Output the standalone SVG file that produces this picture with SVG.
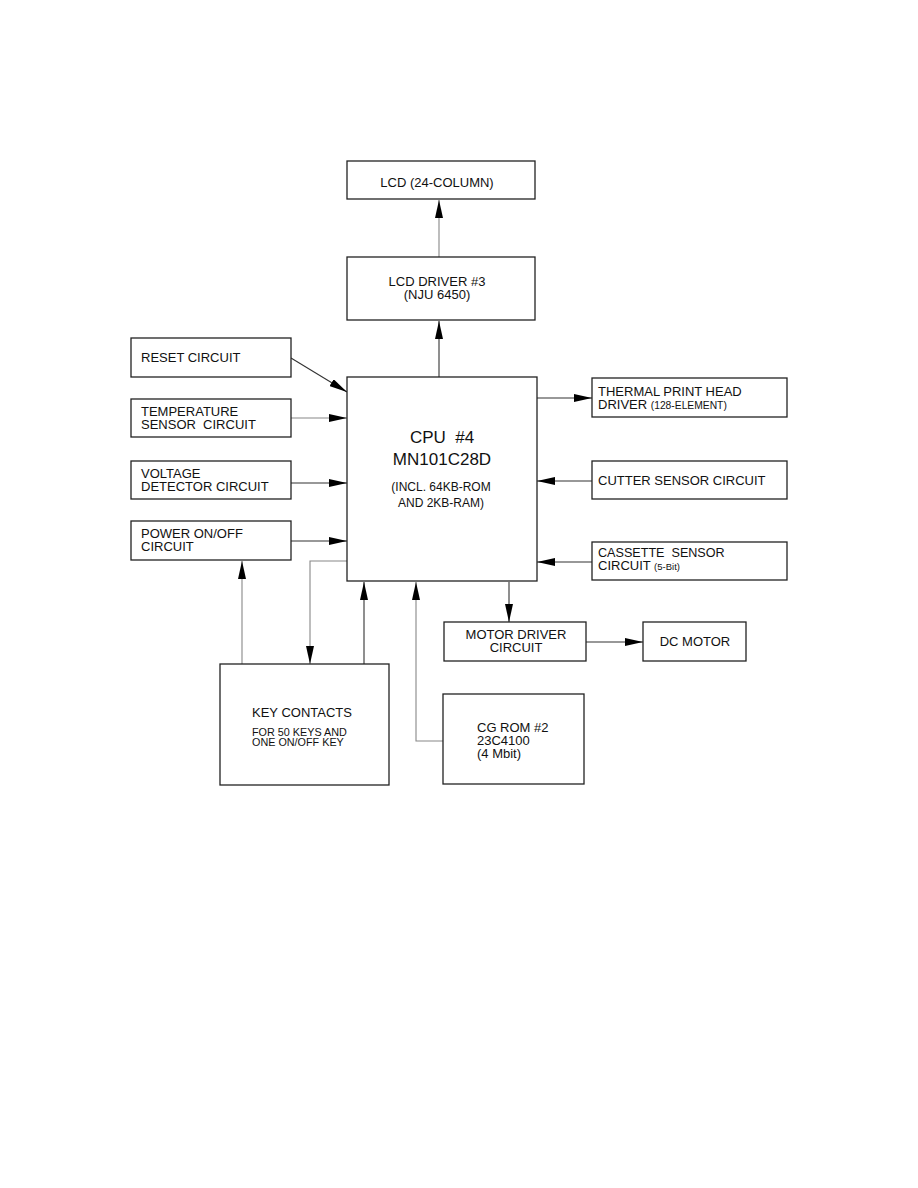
<svg xmlns="http://www.w3.org/2000/svg" width="918" height="1188" viewBox="0 0 918 1188">
<style>
.b{fill:#fff;stroke:#222;stroke-width:1.3}
.t{font-family:"Liberation Sans",Arial,sans-serif;font-size:13px;fill:#111}
.s{font-size:10.3px}
.c{text-anchor:middle}
.l{fill:none;stroke:#333;stroke-width:1.1}
.g{stroke:#888}
</style>
<defs>
<marker id="a" markerUnits="userSpaceOnUse" markerWidth="18" markerHeight="8" refX="18" refY="4" orient="auto">
<path d="M0,0 L18,4 L0,8 z" fill="#000"/>
</marker>
</defs>
<rect width="918" height="1188" fill="#fff"/>
<g id="connectors">
<line class="l g" x1="439" y1="257" x2="439" y2="200" marker-end="url(#a)"/>
<line class="l" x1="439" y1="377" x2="439" y2="321" marker-end="url(#a)"/>
<line class="l" x1="291" y1="358" x2="347" y2="392" marker-end="url(#a)"/>
<line class="l g" x1="291" y1="418" x2="347" y2="418" marker-end="url(#a)"/>
<line class="l" x1="291" y1="483" x2="347" y2="483" marker-end="url(#a)"/>
<line class="l" x1="291" y1="541" x2="347" y2="541" marker-end="url(#a)"/>
<line class="l" x1="537" y1="398" x2="592" y2="398" marker-end="url(#a)"/>
<line class="l" x1="592" y1="481" x2="537" y2="481" marker-end="url(#a)"/>
<line class="l" x1="592" y1="562" x2="537" y2="562" marker-end="url(#a)"/>
<line class="l g" x1="242" y1="664" x2="242" y2="561" marker-end="url(#a)"/>
<polyline class="l g" points="347,561 310,561 310,664" marker-end="url(#a)"/>
<line class="l" x1="364" y1="664" x2="364" y2="582" marker-end="url(#a)"/>
<polyline class="l g" points="443,741 416,741 416,582" marker-end="url(#a)"/>
<line class="l" x1="509" y1="582" x2="509" y2="622" marker-end="url(#a)"/>
<line class="l" x1="586" y1="642" x2="643" y2="642" marker-end="url(#a)"/>
</g>
<g id="lcd"><rect class="b" x="347" y="161" width="188" height="38"/><text class="t c" x="437" y="187">LCD (24-COLUMN)</text></g>
<g id="lcd-driver"><rect class="b" x="347" y="257" width="188" height="63"/><text class="t c" x="437" y="286">LCD DRIVER #3</text><text class="t c" x="437" y="299">(NJU 6450)</text></g>
<g id="cpu"><rect class="b" x="347" y="377" width="190" height="204"/>
<text class="t c" x="442" y="443" style="font-size:17px" xml:space="preserve">CPU  #4</text>
<text class="t c" x="442" y="465" style="font-size:17px">MN101C28D</text>
<text class="t c" x="441" y="491" style="font-size:12px">(INCL. 64KB-ROM</text>
<text class="t c" x="441" y="507" style="font-size:12px">AND 2KB-RAM)</text></g>
<g id="reset"><rect class="b" x="131" y="338" width="160" height="39"/><text class="t" x="141" y="362">RESET CIRCUIT</text></g>
<g id="temperature"><rect class="b" x="131" y="399" width="160" height="38"/><text class="t" x="141" y="416">TEMPERATURE</text><text class="t" x="141" y="429" xml:space="preserve">SENSOR  CIRCUIT</text></g>
<g id="voltage"><rect class="b" x="131" y="461" width="160" height="38"/><text class="t" x="141" y="478">VOLTAGE</text><text class="t" x="141" y="491">DETECTOR CIRCUIT</text></g>
<g id="power"><rect class="b" x="131" y="521" width="160" height="39"/><text class="t" x="141" y="538">POWER ON/OFF</text><text class="t" x="141" y="551">CIRCUIT</text></g>
<g id="thermal"><rect class="b" x="592" y="378" width="195" height="39"/><text class="t" x="598" y="396">THERMAL PRINT HEAD</text><text class="t" x="598" y="409">DRIVER <tspan class="s">(128-ELEMENT)</tspan></text></g>
<g id="cutter"><rect class="b" x="592" y="461" width="195" height="38"/><text class="t" x="598" y="485">CUTTER SENSOR CIRCUIT</text></g>
<g id="cassette"><rect class="b" x="592" y="542" width="195" height="38"/><text class="t" x="598" y="557" xml:space="preserve" style="font-size:12.6px">CASSETTE  SENSOR</text><text class="t" x="598" y="570">CIRCUIT <tspan style="font-size:9.5px">(5-Bit)</tspan></text></g>
<g id="key-contacts"><rect class="b" x="220" y="664" width="169" height="121"/><text class="t" x="252" y="717">KEY CONTACTS</text><text class="t" x="252" y="736" style="font-size:10.8px">FOR 50 KEYS AND</text><text class="t" x="252" y="746" style="font-size:10.8px">ONE ON/OFF KEY</text></g>
<g id="motor-driver"><rect class="b" x="444" y="622" width="142" height="39"/><text class="t c" x="516" y="639">MOTOR DRIVER</text><text class="t c" x="516" y="652">CIRCUIT</text></g>
<g id="dc-motor"><rect class="b" x="643" y="622" width="103" height="39"/><text class="t c" x="695" y="646">DC MOTOR</text></g>
<g id="cg-rom"><rect class="b" x="443" y="694" width="141" height="90"/><text class="t" x="477" y="732">CG ROM #2</text><text class="t" x="477" y="745">23C4100</text><text class="t" x="477" y="758">(4 Mbit)</text></g>
</svg>
